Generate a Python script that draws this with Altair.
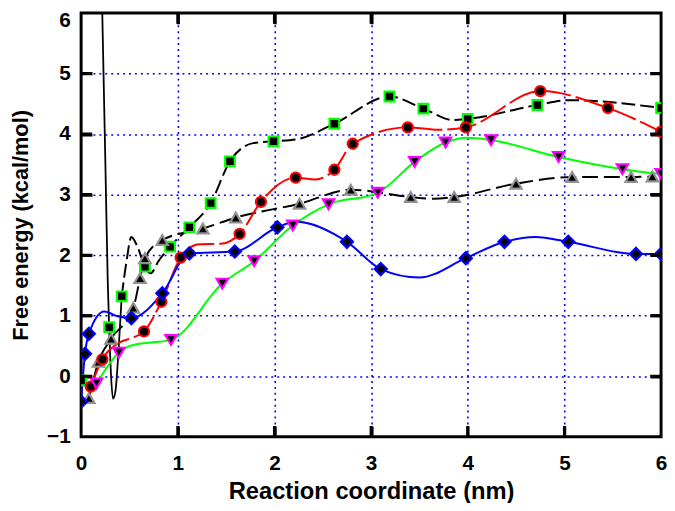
import altair as alt
import pandas as pd

# ---- data ----
# green-edged squares, black dashed curve
sq_x = [0.0, 0.29, 0.42, 0.66, 0.92, 1.12, 1.34, 1.54, 1.99, 2.62, 3.19, 3.54, 4.0, 4.72, 6.0]
sq_y = [-0.07, 0.81, 1.32, 1.81, 2.14, 2.46, 2.86, 3.55, 3.88, 4.17, 4.62, 4.42, 4.25, 4.48, 4.43]
# extra curve vertices of the square curve (wiggle and extrema)
sqv_x = [0.47, 0.52, 0.58, 0.72, 0.80, 1.78, 2.25, 3.85, 5.05]
sqv_y = [1.90, 2.30, 2.15, 1.70, 1.90, 3.85, 3.92, 4.23, 4.56]
# thin solid black excursion near the origin (vertices)
thin_x = [0.215, 0.25, 0.275, 0.29, 0.31, 0.33, 0.355, 0.39, 0.42]
thin_y = [6.3, 3.6, 1.6, 0.81, 0.0, -0.37, -0.25, 0.5, 1.32]
# red-edged circles
rc_x = [0.10, 0.22, 0.65, 0.83, 1.03, 1.64, 1.86, 2.22, 2.62, 2.81, 3.38, 3.98, 4.75, 5.45, 6.0]
rc_y = [-0.17, 0.28, 0.74, 1.23, 1.96, 2.35, 2.88, 3.28, 3.41, 3.84, 4.11, 4.11, 4.71, 4.43, 4.04]
rcv_x = [0.40, 0.52, 1.22, 1.45, 2.42, 3.70]
rcv_y = [0.56, 0.63, 2.18, 2.19, 3.25, 4.07]
# grey-edged up triangles, black dashed curve
tu_x = [0.08, 0.18, 0.31, 0.54, 0.61, 0.66, 0.84, 1.26, 1.60, 2.26, 2.79, 3.41, 3.86, 4.50, 5.08, 5.69, 5.91]
tu_y = [-0.36, 0.24, 0.62, 1.13, 1.62, 1.95, 2.25, 2.44, 2.62, 2.85, 3.08, 2.96, 2.96, 3.18, 3.29, 3.29, 3.30]
tuv_x = [3.65]
tuv_y = [2.93]
# magenta-edged down triangles, green curve
td_x = [0.16, 0.39, 0.93, 1.46, 1.79, 2.19, 2.56, 3.07, 3.45, 3.77, 4.24, 4.94, 5.60, 6.0]
td_y = [-0.12, 0.39, 0.60, 1.53, 1.90, 2.49, 2.84, 3.03, 3.54, 3.86, 3.90, 3.62, 3.42, 3.34]
tdv_x = [0.55, 0.75, 4.00]
tdv_y = [0.52, 0.56, 3.94]
# blue-edged diamonds, blue curve
bd_x = [0.0, 0.04, 0.08, 0.52, 0.84, 1.12, 1.59, 2.03, 2.75, 3.10, 3.98, 4.38, 5.04, 5.74, 6.0]
bd_y = [-0.42, 0.37, 0.70, 0.96, 1.37, 2.03, 2.06, 2.46, 2.22, 1.77, 1.95, 2.22, 2.22, 2.02, 2.02]
bdv_x = [0.24, 0.38, 2.22, 3.50, 4.70]
bdv_y = [1.07, 0.99, 2.55, 1.63, 2.30]

x_ticks = [0, 1, 2, 3, 4, 5, 6]
y_ticks = [-1, 0, 1, 2, 3, 4, 5, 6]
x_grid = [1, 2, 3, 4, 5]
y_grid = [0, 1, 2, 3, 4, 5]

FONT = "Liberation Sans"
W, H = 587, 429
TICK = 11

def df(xs, ys):
    return pd.DataFrame({"x": xs, "y": ys})

def curve(mx, my, vx, vy, start=0):
    d = pd.concat([df(mx[start:], my[start:]), df(vx, vy)])
    d = d[d["x"] >= mx[start]]
    return d.sort_values("x").reset_index(drop=True)

xs = alt.Scale(domain=[0, 6], nice=False, zero=False)
ys = alt.Scale(domain=[-1, 6], nice=False, zero=False)
X = alt.X("x:Q", scale=xs, axis=None)
Y = alt.Y("y:Q", scale=ys, axis=None)

def line(data, color, dash, width=2.0):
    kw = dict(color=color, strokeWidth=width, interpolate="monotone", clip=True)
    if dash:
        kw["strokeDash"] = dash
    return alt.Chart(data).mark_line(**kw).encode(x=X, y=Y, order="x:Q")

def points(data, shape, stroke, size):
    return alt.Chart(data).mark_point(
        shape=shape, filled=True, fill="black", stroke=stroke, strokeWidth=2.2,
        size=size, opacity=1, clip=True
    ).encode(x=X, y=Y)

edge_x = "datum.value == 0 || datum.value == 6"
edge_y = "datum.value == -1 || datum.value == 6"

# labels, titles and the blue dotted grid
ax_data = pd.DataFrame({"x": [0, 6], "y": [-1, 6]})
base_axes = alt.Chart(ax_data).mark_point(opacity=0).encode(
    x=alt.X("x:Q", scale=xs, axis=alt.Axis(
        orient="bottom", values=x_ticks, domain=False, ticks=False,
        grid=True, gridColor="#0000ff", gridDash=[2, 4], gridWidth=1.6,
        gridOpacity=alt.condition(edge_x, alt.value(0), alt.value(1)),
        labelPadding=16, labelFont=FONT, labelFontSize=21, labelFontWeight="bold",
        labelColor="black", labelFlush=False,
        title="Reaction coordinate (nm)", titleFont=FONT, titleFontSize=24,
        titleFontWeight="bold", titleColor="black",
        titleX=293.5, titleY=55, titleAlign="center", titleBaseline="middle")),
    y=alt.Y("y:Q", scale=ys, axis=alt.Axis(
        orient="left", values=y_ticks, domain=False, ticks=False,
        grid=True, gridColor="#0000ff", gridDash=[2, 4], gridWidth=1.6,
        gridOpacity=alt.condition(edge_y, alt.value(0), alt.value(1)),
        labelPadding=11, labelFont=FONT, labelFontSize=21, labelFontWeight="bold",
        labelColor="black", labelFlush=False,
        labelOffset=alt.condition("datum.value == 6", alt.value(8), alt.value(0)),
        title="Free energy (kcal/mol)", titleFont=FONT, titleFontSize=22,
        titleFontWeight="bold", titleColor="black",
        titleX=-61, titleY=214.5, titleAngle=270, titleAlign="center",
        titleBaseline="middle")),
)
# inward ticks on all four sides: a black grid of which only a short dash at each end is drawn
tick_axes = alt.Chart(ax_data).mark_point(opacity=0).encode(
    x=alt.X("x:Q", scale=xs, axis=alt.Axis(
        orient="top", values=x_grid, grid=True, gridColor="#000000",
        gridDash=[TICK, H - 2 * TICK, TICK], gridWidth=3, gridOpacity=1,
        domain=False, labels=False, ticks=False, title=None)),
    y=alt.Y("y:Q", scale=ys, axis=alt.Axis(
        orient="right", values=y_grid, grid=True, gridColor="#000000",
        gridDash=[TICK, W - 2 * TICK, TICK], gridWidth=3, gridOpacity=1,
        domain=False, labels=False, ticks=False, title=None)),
)

# the same ticks again as full-length rules showing only their end dashes
xr = pd.DataFrame({"x": x_grid})
yr = pd.DataFrame({"y": y_grid})
rule_x = alt.Chart(xr).mark_rule(color="#000000", strokeWidth=3,
                                 strokeDash=[TICK, H - 2 * TICK, TICK]).encode(x=X)
rule_y = alt.Chart(yr).mark_rule(color="#000000", strokeWidth=3,
                                 strokeDash=[TICK, W - 2 * TICK, TICK]).encode(y=Y)

layers = [
    base_axes, tick_axes,
    line(df(thin_x, thin_y), "black", None, 1.8),
    line(curve(sq_x, sq_y, sqv_x, sqv_y, start=2), "black", [14, 5]),
    line(curve(tu_x, tu_y, tuv_x, tuv_y), "black", [16, 6]),
    line(curve(rc_x, rc_y, rcv_x, rcv_y), "#ff0000", [30, 5]),
    line(curve(td_x, td_y, tdv_x, tdv_y), "#00ff00", None),
    line(curve(bd_x, bd_y, bdv_x, bdv_y), "#0000ff", None),
    points(df(sq_x, sq_y), "square", "#00ff00", 95),
    points(df(tu_x, tu_y), "triangle-up", "#909090", 130),
    points(df(rc_x, rc_y), "circle", "#ff0000", 105),
    points(df(td_x, td_y), "triangle-down", "#ff00ff", 130),
    points(df(bd_x, bd_y), "diamond", "#0000ff", 150),
    rule_x, rule_y,
]

chart = alt.layer(*layers).resolve_axis(x="independent", y="independent").properties(
    width=W, height=H,
    autosize=alt.AutoSizeParams(type="none"),
    padding={"left": 74, "top": 2, "right": 6, "bottom": 64},
).configure_view(stroke="black", strokeWidth=3)

chart.save("out.html", embed_options={"renderer": "svg", "actions": False})
